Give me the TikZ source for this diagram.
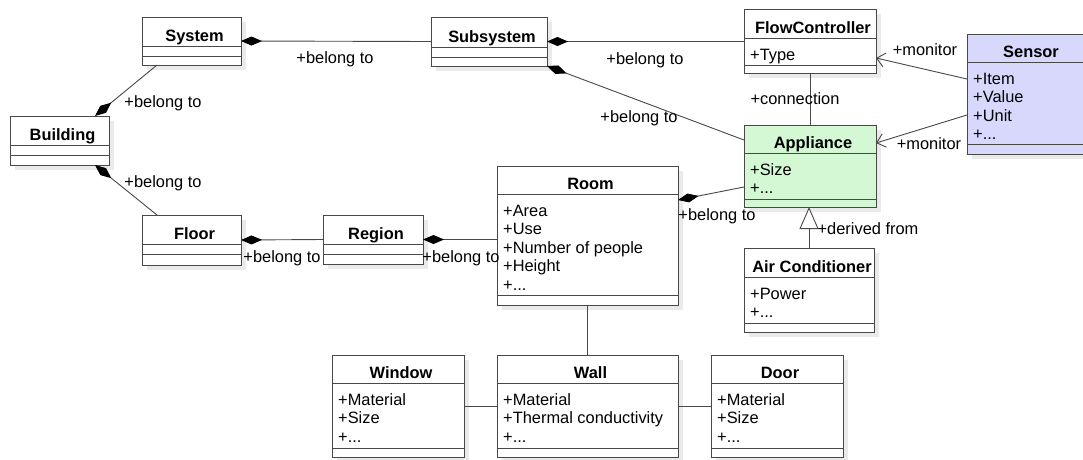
\documentclass[tikz,border=0pt]{standalone}
\usepackage{fontspec}
\setmainfont{Liberation Sans}
\usetikzlibrary{arrows.meta,shadows}

\definecolor{linegray}{RGB}{72,72,72}
\definecolor{appgreen}{RGB}{212,247,212}
\definecolor{sensorblue}{RGB}{216,216,252}

\newcommand{\attrlist}[1]{\begin{tabular}[t]{@{}l@{}}#1\end{tabular}}
% box of a class: name, fill, left, top, right, bottom, title line, attribute line, title
\newcommand{\umlclass}[9]{%
  \node[classbox, fill=#2, minimum width={(#5-#3)*1pt}, minimum height={(#6-#4)*1pt}] (#1) at (#3,#4) {};
  \draw[boxline] (#3,#7) -- (#5,#7) (#3,#8) -- (#5,#8);
  \node[classname] (#1-name) at ({(#3+#5)/2+3},{#7-5}) {#9};
  \coordinate (#1-attr) at ({#3+6},{#7+22});
}

\begin{document}
\begin{tikzpicture}[x=1pt, y=-1pt, font=\fontsize{16.4}{18.5}\selectfont,
  classbox/.style={draw=linegray, line width=1pt, anchor=north west, inner sep=0pt, outer sep=0pt,
    drop shadow={shadow xshift=5pt, shadow yshift=-5pt, fill=black!16, draw=none}},
  boxline/.style={draw=linegray, line width=1pt},
  classname/.style={font=\fontsize{16.4}{18.5}\selectfont\bfseries, anchor=base, inner sep=0pt},
  attrtext/.style={anchor=base west, inner sep=0pt},
  assoc/.style={draw=linegray, line width=0.9pt},
  comp/.style={assoc, {Diamond[length=21pt,width=9pt,color=black]}-},
  monitor/.style={assoc, -{Straight Barb[length=8pt,width=14pt]}},
  derive/.style={assoc, -{Triangle[open,length=22pt,width=19pt,fill=white]}},
  lbl/.style={inner sep=0pt}]
\useasboundingbox (0,0) rectangle (1083,459);
\clip (0,0) rectangle (1083,459);
\fill[white] (0,0) rectangle (1083,459);

% classes
\umlclass{system}{white}{142}{17}{241}{65}{46}{56}{System}
\umlclass{subsystem}{white}{431}{17}{547}{66}{47}{57}{Subsystem}
\umlclass{flowctrl}{white}{744}{9}{876}{73}{38}{65}{FlowController}
\umlclass{building}{white}{10}{116}{109}{165}{145}{155}{Building}
\umlclass{floor}{white}{142}{215}{241}{265}{244}{254}{Floor}
\umlclass{region}{white}{323}{215}{423}{264}{244}{254}{Region}
\umlclass{room}{white}{497}{166}{678}{305}{194}{295}{Room}
\umlclass{appliance}{appgreen}{744}{125}{876}{207}{153}{199}{Appliance}
\umlclass{aircond}{white}{744}{248}{874}{332}{277}{323}{Air Conditioner}
\umlclass{sensor}{sensorblue}{967}{34}{1089}{154}{62}{144}{Sensor}
\umlclass{window}{white}{332}{355}{464}{457}{383}{448}{Window}
\umlclass{wall}{white}{497}{355}{678}{457}{383}{448}{Wall}
\umlclass{door}{white}{711}{355}{843}{457}{383}{448}{Door}

\node[attrtext] (flowctrl-list) at (flowctrl-attr) {\attrlist{+Type}};
\node[attrtext] (room-list) at (room-attr) {\attrlist{+Area\\+Use\\+Number of people\\+Height\\+...}};
\node[attrtext] (appliance-list) at (appliance-attr) {\attrlist{+Size\\+...}};
\node[attrtext] (aircond-list) at (aircond-attr) {\attrlist{+Power\\+...}};
\node[attrtext] (sensor-list) at (sensor-attr) {\attrlist{+Item\\+Value\\+Unit\\+...}};
\node[attrtext] (window-list) at (window-attr) {\attrlist{+Material\\+Size\\+...}};
\node[attrtext] (wall-list) at (wall-attr) {\attrlist{+Material\\+Thermal conductivity\\+...}};
\node[attrtext] (door-list) at (door-attr) {\attrlist{+Material\\+Size\\+...}};

% connectors
\draw[comp] (system.east) -- (subsystem.west);
\draw[comp] (subsystem.east) -- (subsystem.east -| flowctrl.west);
\draw[comp] (subsystem.south east) -- ([yshift=-15pt]appliance.north west);
\draw[comp] ([xshift=-14pt]building.north east) -- ([xshift=15pt]system.south west);
\draw[comp] ([xshift=-14pt]building.south east) -- ([xshift=15pt]floor.north west);
\draw[comp] (floor.east) -- (region.west);
\draw[comp] (region.east) -- (region.east -| room.west);
\draw[comp] ([yshift=-34pt]room.north east) -- ([yshift=-62pt]appliance.north west);
\draw[assoc] (flowctrl.south) -- (appliance.north);
\draw[monitor] ([yshift=-45pt]sensor.north west) -- ([yshift=-49pt]flowctrl.north east);
\draw[monitor] ([yshift=-81pt]sensor.north west) -- ([yshift=-18pt]appliance.north east);
\draw[derive] (aircond.north) -- (aircond.north |- appliance.south);
\draw[assoc] (room.south) -- (wall.north);
\draw[assoc] (window.east) -- (window.east -| wall.west);
\draw[assoc] (wall.east) -- (wall.east -| door.west);

% labels
\node[lbl] (sys-sub) at (335,59) {+belong to};
\node[lbl] (sub-flow) at (645,60) {+belong to};
\node[lbl] (sub-app) at (639,118) {+belong to};
\node[lbl] (flow-app) at (795,99) {+connection};
\node[lbl] (sen-flow) at (925,50) {+monitor};
\node[lbl] (sen-app) at (929,144) {+monitor};
\node[lbl] (bld-sys) at (163,103) {+belong to};
\node[lbl] (bld-flr) at (163,183) {+belong to};
\node[lbl] (flr-reg) at (282,258) {+belong to};
\node[lbl] (reg-room) at (461,258) {+belong to};
\node[lbl] (room-app) at (717,216) {+belong to};
\node[lbl] (app-air) at (868,229) {+derived from};
\end{tikzpicture}
\end{document}
